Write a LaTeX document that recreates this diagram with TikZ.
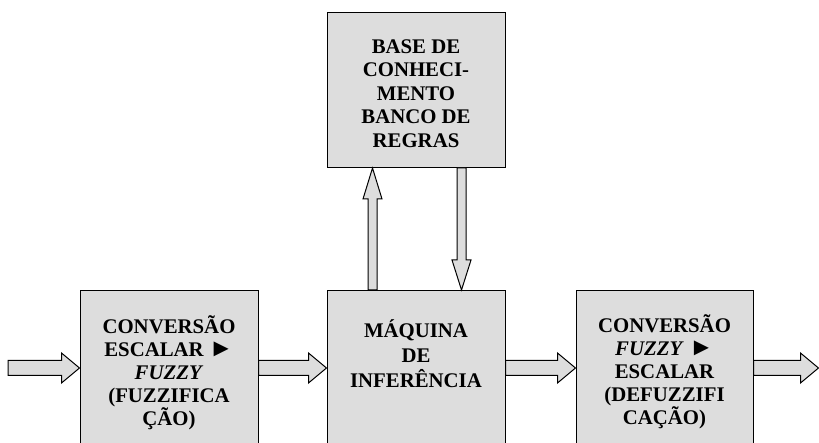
\documentclass[tikz,border=0pt]{standalone}
\usepackage{fontspec}
\setmainfont{Liberation Serif}
\usetikzlibrary{calc}
\definecolor{boxgray}{RGB}{221,221,221}
\tikzset{
  blockbox/.style={draw=black, line width=1pt, fill=boxgray, rectangle, inner sep=0pt},
  blockarrow/.style={draw=black, line width=1pt, fill=boxgray, line join=miter},
  boxtext/.style={align=center, anchor=north, inner sep=0pt,
    font={\bfseries\fontsize{20.8}{23}\selectfont\lineskiplimit=-20pt}},
}
\newcommand{\ptr}{{\fontsize{25}{23}\selectfont ►}}
\newcommand{\harr}[2]{\draw[blockarrow] let \p1=(#1), \p2=(#2) in
  (\x1,\y1+7.5pt) -- (\x2-18pt,\y1+7.5pt) -- (\x2-18pt,\y1+15pt) -- (\x2,\y1)
  -- (\x2-18pt,\y1-15pt) -- (\x2-18pt,\y1-7.5pt) -- (\x1,\y1-7.5pt) -- cycle;}
\newcommand{\uarr}[2]{\draw[blockarrow] let \p1=(#1), \p2=(#2) in
  (\x1-4.5pt,\y1) -- (\x1-4.5pt,\y2-31pt) -- (\x1-9.5pt,\y2-31pt) -- (\x1,\y2)
  -- (\x1+9.5pt,\y2-31pt) -- (\x1+4.5pt,\y2-31pt) -- (\x1+4.5pt,\y1) -- cycle;}
\newcommand{\darr}[2]{\draw[blockarrow] let \p1=(#1), \p2=(#2) in
  (\x1-4.5pt,\y1) -- (\x1-4.5pt,\y2+30pt) -- (\x1-9.5pt,\y2+30pt) -- (\x1,\y2)
  -- (\x1+9.5pt,\y2+30pt) -- (\x1+4.5pt,\y2+30pt) -- (\x1+4.5pt,\y1) -- cycle;}
\begin{document}
\begin{tikzpicture}[x=1pt,y=-1pt]
\useasboundingbox (0,0) rectangle (819,443);
\clip (0,0) rectangle (819,443);
% boxes
\node[blockbox, minimum width=178pt, minimum height=170pt, anchor=north] (F) at (169,290) {};
\node[blockbox, minimum width=178pt, minimum height=170pt, anchor=north] (M) at (416,290) {};
\node[blockbox, minimum width=177pt, minimum height=170pt, anchor=north] (D) at (664.5,290) {};
\node[blockbox, minimum width=178pt, minimum height=155pt, anchor=north] (K) at (416,12) {};
% texts
\node[boxtext] (Ft) at (169,313) {\rule{0pt}{20pt}CONVERSÃO\\ESCALAR \ptr\\\textit{FUZZY}\\(FUZZIFICA\\ÇÃO)};
\node[boxtext, font={\bfseries\fontsize{20.8}{25}\selectfont\lineskiplimit=-20pt}] (Mt) at (416,317) {\rule{0pt}{20pt}MÁQUINA\\DE\\INFERÊNCIA};
\node[boxtext] (Dt) at (664.5,312) {\rule{0pt}{20pt}CONVERSÃO\\\textit{FUZZY} \ptr\\ESCALAR\\(DEFUZZIFI\\CAÇÃO)};
\node[boxtext, font={\bfseries\fontsize{20.8}{23.5}\selectfont\lineskiplimit=-20pt}] (Kt) at (416,33) {\rule{0pt}{20pt}BASE DE\\CONHECI-\\MENTO\\BANCO DE\\REGRAS};
% helper coordinates
\coordinate (ay) at (0,368);
\coordinate (upx) at (372.5,0);
\coordinate (dnx) at (461.5,0);
\coordinate (in) at (8,368);
\coordinate (out) at (818.5,368);
% connectors
\harr{in}{F.west |- ay}
\harr{F.east |- ay}{M.west |- ay}
\harr{M.east |- ay}{D.west |- ay}
\harr{D.east |- ay}{out}
\uarr{upx |- M.north}{upx |- K.south}
\darr{dnx |- K.south}{dnx |- M.north}
\end{tikzpicture}
\end{document}
